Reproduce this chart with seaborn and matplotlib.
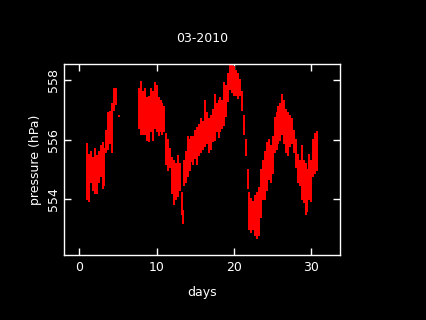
import matplotlib
matplotlib.use('Agg')
import matplotlib.pyplot as plt
import seaborn as sns
import pandas as pd

# readings per quarter day: lowest and highest pressure seen (hPa)
day = [1.0, 1.25, 1.5, 1.75, 2.0, 2.25, 2.5, 2.75, 3.0, 3.25, 3.5, 3.75,
       4.0, 4.25, 4.5, 4.75,
       7.75, 8.0, 8.25, 8.5, 8.75, 9.0, 9.25, 9.5, 9.75, 10.0, 10.25, 10.5,
       10.75, 11.0, 11.25, 11.5, 11.75, 12.0, 12.25, 12.5, 12.75, 13.0,
       13.25, 13.4, 13.5, 13.75, 14.0, 14.25, 14.5, 14.75, 15.0, 15.25,
       15.5, 15.75, 16.0, 16.25, 16.5, 16.75, 17.0, 17.25, 17.5, 17.75,
       18.0, 18.25, 18.5, 18.75, 19.0, 19.25, 19.5, 19.75, 20.0, 20.25,
       20.5, 20.75, 21.0, 21.25, 21.5, 21.75, 22.0, 22.25, 22.5, 22.75,
       23.0, 23.25, 23.5, 23.75, 24.0, 24.25, 24.5, 24.75, 25.0, 25.25,
       25.5, 25.75, 26.0, 26.25, 26.5, 26.75, 27.0, 27.25, 27.5, 27.75,
       28.0, 28.25, 28.5, 28.75, 29.0, 29.25, 29.5, 29.75, 30.0, 30.25,
       30.5, 30.75]
p_hi = [555.85, 555.5, 555.6, 555.4, 555.7, 555.45, 555.6, 555.8, 555.9, 555.7,
        556.3, 556.9, 556.95, 557.2, 557.7, 557.7,
        557.7, 557.95, 557.6, 557.7, 557.4, 557.45, 557.7, 557.6, 557.9, 557.8,
        557.4, 557.3, 557.2, 557.1, 556.2, 556.0, 555.7, 555.4, 555.3, 555.2,
        555.45, 555.2, 554.2, 553.6, 555.3, 555.6, 556.1, 556.0, 556.1, 556.1,
        556.3, 556.4, 556.5, 556.7, 556.6, 557.3, 556.9, 556.7, 556.8, 557.0,
        557.5, 557.2, 557.3, 557.4, 557.3, 557.9, 557.8, 558.2, 558.55, 558.5,
        558.45, 558.3, 558.2, 558.0, 557.6, 556.8, 556.0, 555.0, 554.2, 554.0,
        553.9, 554.1, 554.2, 554.4, 555.0, 555.3, 555.6, 555.9, 556.0, 555.8,
        556.1, 556.75, 556.9, 557.1, 557.2, 557.5, 557.3, 557.0, 556.9, 556.8,
        556.7, 556.3, 556.0, 555.5, 555.3, 555.8, 555.3, 555.2, 555.0, 555.5,
        555.3, 556.0, 556.2, 556.25]
p_lo = [554.0, 553.95, 554.6, 554.3, 554.2, 554.2, 554.6, 554.8, 554.4, 554.5,
        555.6, 555.7, 555.9, 555.6, 557.0, 557.2,
        556.4, 556.2, 556.2, 556.2, 556.0, 555.95, 556.3, 556.0, 556.4, 556.3,
        556.15, 556.3, 556.2, 556.3, 555.2, 555.0, 555.1, 554.2, 553.85, 554.0,
        554.1, 554.3, 553.5, 553.2, 554.5, 554.6, 554.8, 555.0, 555.3, 555.2,
        555.4, 555.2, 555.5, 555.6, 555.7, 555.8, 555.9, 555.6, 555.7, 555.95,
        556.0, 556.3, 556.1, 556.3, 556.4, 556.5, 556.8, 557.3, 557.7, 557.6,
        557.5, 557.5, 557.4, 557.5, 557.0, 556.2, 555.5, 554.4, 553.0, 552.9,
        553.0, 552.8, 552.7, 552.8, 553.4, 554.0, 554.0, 554.3, 554.7, 554.6,
        554.9, 555.6, 555.7, 555.9, 556.0, 556.2, 555.9, 555.6, 555.5, 555.8,
        555.9, 555.6, 555.1, 554.6, 554.5, 554.0, 553.9, 553.5, 553.6, 554.0,
        553.95, 554.8, 554.9, 555.0]

# single stray reading
stray_day = [5.1]
stray_p = [556.8]

df = pd.DataFrame({'day': day, 'lo': p_lo, 'hi': p_hi})
long = df.melt(id_vars='day', value_vars=['lo', 'hi'], value_name='p')

plt.rcParams['font.family'] = ['DejaVu Sans']
plt.rcParams['font.size'] = 9

fig = plt.figure(figsize=(4.26, 3.2), dpi=100, facecolor='black')
ax = fig.add_axes([0.151, 0.202, 0.648, 0.598])
ax.set_facecolor('black')

sns.lineplot(data=long, x='day', y='p', units='day', estimator=None,
             color='#ff0000', lw=1.3, antialiased=False, ax=ax, legend=False)
sns.scatterplot(x=stray_day, y=stray_p, color='#ff0000', marker='s', s=3,
                linewidth=0, ax=ax)

ax.set_xlim(-1.94, 33.76)
ax.set_ylim(552.12, 558.55)
ax.set_xticks([0, 10, 20, 30])
ax.set_yticks([554, 556, 558])
for s in ax.spines.values():
    s.set_color('white')
    s.set_linewidth(1)
ax.tick_params(colors='white', direction='in', length=5, width=1,
               top=True, right=True, labelsize=9)
ax.tick_params(axis='x', pad=4)
ax.tick_params(axis='y', pad=3)
for lab in ax.get_yticklabels():
    lab.set_rotation(90)
    lab.set_va('center')

ax.set_title('03-2010', color='white', fontsize=9, pad=16)
ax.set_xlabel('days', color='white', fontsize=9, labelpad=9)
ax.set_ylabel('pressure (hPa)', color='white', fontsize=9, labelpad=4)

fig.savefig('out.png', dpi=100, facecolor='black')
